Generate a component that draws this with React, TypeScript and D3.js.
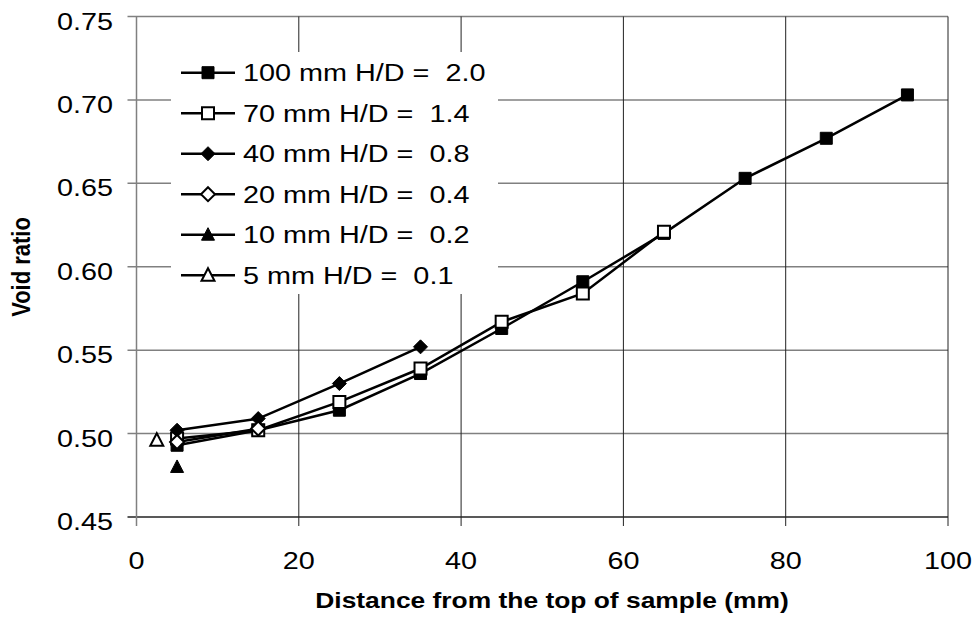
import React from "react";
import * as d3 from "d3";

const WIDTH = 974;
const HEIGHT = 623;
const STRETCH = 1.2; // the source image is stretched horizontally

const xTicks = [0, 20, 40, 60, 80, 100];
const yTicks = [0.45, 0.5, 0.55, 0.6, 0.65, 0.7, 0.75];

// distance from the top (mm) and void ratio per sample height
const x100 = [5, 15, 25, 35, 45, 55, 65, 75, 85, 95];
const e100 = [0.493, 0.502, 0.514, 0.536, 0.563, 0.591, 0.62, 0.653, 0.677, 0.703];
const x70 = [5, 15, 25, 35, 45, 55, 65];
const e70 = [0.497, 0.502, 0.519, 0.539, 0.567, 0.584, 0.621];
const x40 = [5, 15, 25, 35];
const e40 = [0.502, 0.509, 0.53, 0.552];
const x20 = [5, 15];
const e20 = [0.495, 0.503];
const x10 = [5];
const e10 = [0.48];
const x5 = [2.5];
const e5 = [0.496];

const seriesNames = [
  "100 mm H/D =  2.0",
  "70 mm H/D =  1.4",
  "40 mm H/D =  0.8",
  "20 mm H/D =  0.4",
  "10 mm H/D =  0.2",
  "5 mm H/D =  0.1",
];
const seriesShapes = ["square", "square", "diamond", "diamond", "triangle", "triangle"];
const seriesFilled = [true, false, true, false, true, false];
const seriesX = [x100, x70, x40, x20, x10, x5];
const seriesY = [e100, e70, e40, e20, e10, e5];

const FONT = "'Liberation Sans', Arial, sans-serif";

function markerPath(shape: string) {
  if (shape === "square") return "M-6,-6H6V6H-6Z";
  if (shape === "diamond") return "M0,-7L7,0L0,7L-7,0Z";
  return "M0,-7L6.5,5.5H-6.5Z";
}

function Marker({ shape, filled, x, y }: { shape: string; filled: boolean; x: number; y: number }) {
  return (
    <path
      d={markerPath(shape)}
      transform={`translate(${x},${y})`}
      fill={filled ? "#000" : "#fff"}
      stroke="#000"
      strokeWidth={filled ? 1 : 2}
    />
  );
}

function Label({ x, y, anchor, children, bold, size = 24 }: any) {
  return (
    <text
      transform={`translate(${x},${y}) scale(${STRETCH},1)`}
      textAnchor={anchor}
      fontFamily={FONT}
      fontSize={size}
      fontWeight={bold ? "bold" : "normal"}
      style={{ whiteSpace: "pre" }}
      fill="#000"
    >
      {children}
    </text>
  );
}

export default function App() {
  const xScale = d3.scaleLinear().domain([0, 100]).range([136.5, 948]);
  const yScale = d3.scaleLinear().domain([0.45, 0.75]).range([517, 16.5]);
  const line = d3
    .line<[number, number]>()
    .x((d) => xScale(d[0]))
    .y((d) => yScale(d[1]));

  const [x0, x1] = xScale.range();
  const [y0, y1] = yScale.range();

  const legendTop = 72.7;
  const legendStep = 40.5;

  return (
    <svg
      width={WIDTH}
      height={HEIGHT}
      style={{ position: "absolute", left: 0, top: 0, background: "#fff" }}
    >
      {/* horizontal gridlines */}
      {yTicks.map((t) => (
        <line key={"h" + t} x1={x0 - 9} x2={x1} y1={yScale(t)} y2={yScale(t)}
          stroke={t === 0.45 ? "#222" : "#808080"} strokeWidth={t === 0.45 ? 1.3 : 1.5} />
      ))}
      {/* vertical gridlines */}
      {xTicks.map((t) => (
        <line key={"v" + t} x1={xScale(t)} x2={xScale(t)} y1={y1} y2={y0 + 9}
          stroke={t === 0 ? "#808080" : "#222"} strokeWidth={t === 0 ? 1.5 : 1} />
      ))}

      {/* tick labels */}
      {yTicks.map((t) => (
        <Label key={"yl" + t} x={113} y={yScale(t) + 13} anchor="end">
          {d3.format(".2f")(t)}
        </Label>
      ))}
      {xTicks.map((t) => (
        <Label key={"xl" + t} x={xScale(t)} y={569} anchor="middle">
          {t}
        </Label>
      ))}

      <Label x={552} y={608} anchor="middle" bold size={22}>
        Distance from the top of sample (mm)
      </Label>
      <text
        transform={`translate(30,267) scale(${STRETCH},1) rotate(-90)`}
        textAnchor="middle"
        fontFamily={FONT}
        fontSize={22}
        fontWeight="bold"
      >
        Void ratio
      </text>

      {/* series */}
      {seriesNames.map((name, i) => {
        const pts = seriesX[i].map((x, j) => [x, seriesY[i][j]] as [number, number]);
        return (
          <g key={name}>
            {pts.length > 1 && (
              <path d={line(pts) || ""} fill="none" stroke="#000" strokeWidth={2.5} />
            )}
            {pts.map((p, j) => (
              <Marker key={j} shape={seriesShapes[i]} filled={seriesFilled[i]}
                x={xScale(p[0])} y={yScale(p[1])} />
            ))}
          </g>
        );
      })}

      {/* legend */}
      <rect x={171} y={52} width={327} height={242} fill="#fff" />
      {seriesNames.map((name, i) => {
        const y = legendTop + i * legendStep;
        return (
          <g key={"lg" + name}>
            <line x1={181} x2={235} y1={y} y2={y} stroke="#000" strokeWidth={2.5} />
            <Marker shape={seriesShapes[i]} filled={seriesFilled[i]} x={208} y={y} />
            <Label x={243} y={y + 8.5} anchor="start">
              {name}
            </Label>
          </g>
        );
      })}
    </svg>
  );
}
